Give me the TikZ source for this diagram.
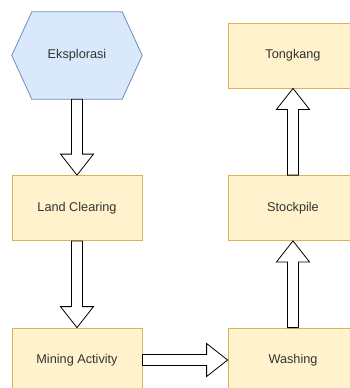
\documentclass[tikz,border=0pt]{standalone}
\usepackage{fontspec}
\setmainfont{Liberation Sans}
\usetikzlibrary{calc}
\definecolor{hexfill}{HTML}{DAE8FC}
\definecolor{hexline}{HTML}{6C8EBF}
\definecolor{boxfill}{HTML}{FFF2CC}
\definecolor{boxline}{HTML}{D6B656}
\definecolor{txt}{HTML}{333333}
\tikzset{
  procbox/.style={draw=boxline, fill=boxfill, line width=0.8pt, minimum width=130pt, minimum height=65pt, inner sep=0pt, text=txt, font=\fontsize{12.7}{14}\selectfont},
  hexlabel/.style={minimum width=130pt, minimum height=87pt, inner sep=0pt, text=txt, font=\fontsize{12.7}{14}\selectfont},
  flexarrow/.style={draw=black, fill=white, line width=0.8pt, line join=miter}
}
\newcommand{\flexarr}[3]{%
  \path ($(#2)!21pt!(#1)$) coordinate (#3h);
  \draw[flexarrow] ($(#1)!5.5pt!90:(#2)$) -- ($(#3h)!5.5pt!90:(#2)$) -- ($(#3h)!16.5pt!90:(#2)$) -- (#2)
    -- ($(#3h)!16.5pt!-90:(#2)$) -- ($(#3h)!5.5pt!-90:(#2)$) -- ($(#1)!5.5pt!-90:(#2)$) -- cycle;}
\begin{document}
\begin{tikzpicture}[x=1pt,y=-1pt]
\useasboundingbox (0,0) rectangle (350,388);
\clip (0,0) rectangle (350,388);
\fill[white] (0,0) rectangle (350,388);
% nodes
\node[hexlabel] (eks) at (77,55.5) {};
\draw[draw=hexline, fill=hexfill, line width=0.8pt]
  ($(eks.north west)+(20,0)$) -- ($(eks.north east)+(-20,0)$) -- (eks.east)
  -- ($(eks.south east)+(-20,0)$) -- ($(eks.south west)+(20,0)$) -- (eks.west) -- cycle;
\node[hexlabel] at (eks) {Eksplorasi};
\node[procbox] (tong) at (293,55.5) {Tongkang};
\node[procbox] (land) at (77,208) {Land Clearing};
\node[procbox] (stock) at (293,208) {Stockpile};
\node[procbox] (mine) at (77,360.5) {Mining Activity};
\node[procbox] (wash) at (293,360.5) {Washing};
% arrows
\coordinate (mineout) at ($(mine.east)+(0,-0.5)$);
\coordinate (washin) at ($(wash.west)+(0,-0.5)$);
\flexarr{eks.south}{land.north}{a}
\flexarr{land.south}{mine.north}{b}
\flexarr{mineout}{washin}{c}
\flexarr{wash.north}{stock.south}{d}
\flexarr{stock.north}{tong.south}{e}
\end{tikzpicture}
\end{document}
